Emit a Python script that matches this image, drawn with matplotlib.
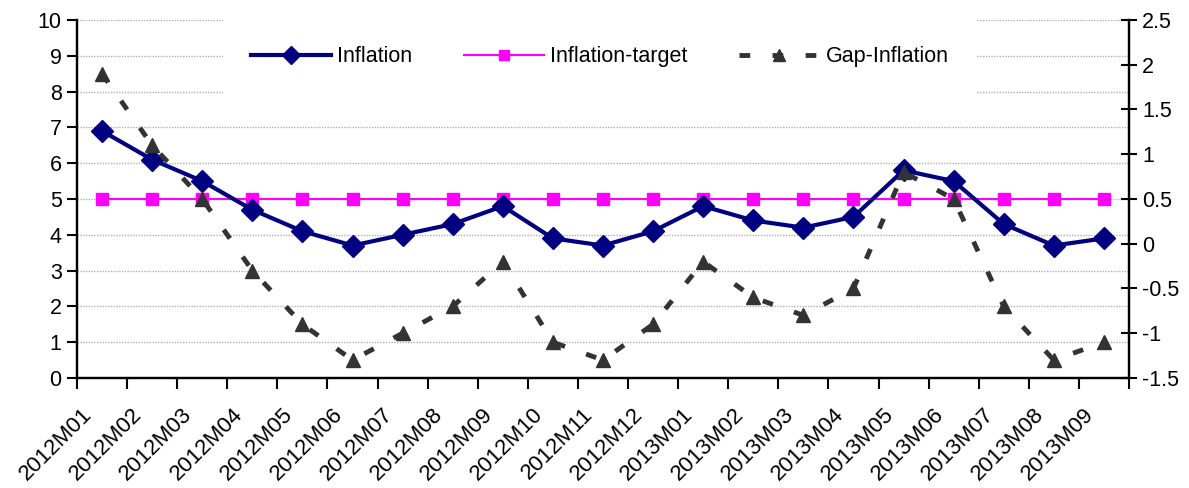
import numpy as np
import matplotlib.pyplot as plt
from matplotlib.transforms import ScaledTranslation

plt.rcParams['font.family'] = ['Liberation Sans', 'DejaVu Sans']

months = ['2012M01', '2012M02', '2012M03', '2012M04', '2012M05', '2012M06', '2012M07',
          '2012M08', '2012M09', '2012M10', '2012M11', '2012M12', '2013M01', '2013M02',
          '2013M03', '2013M04', '2013M05', '2013M06', '2013M07', '2013M08', '2013M09']
inflation = [6.9, 6.1, 5.5, 4.7, 4.1, 3.7, 4.0, 4.3, 4.8, 3.9, 3.7, 4.1, 4.8, 4.4,
             4.2, 4.5, 5.8, 5.5, 4.3, 3.7, 3.9]
target = [5.0] * 21
gap = [1.9, 1.1, 0.5, -0.3, -0.9, -1.3, -1.0, -0.7, -0.2, -1.1, -1.3, -0.9, -0.2, -0.6,
       -0.8, -0.5, 0.8, 0.5, -0.7, -1.3, -1.1]

left_ticks = list(range(0, 11))
right_ticks = [-1.5, -1, -0.5, 0, 0.5, 1, 1.5, 2, 2.5]
right_labels = ['-1.5', '-1', '-0.5', '0', '0.5', '1', '1.5', '2', '2.5']

x = np.arange(len(months))

fig = plt.figure(figsize=(11.89, 4.88), dpi=100)
ax = fig.add_axes([77 / 1189, 1 - 378 / 488, 1052 / 1189, 358 / 488])
ax2 = ax.twinx()

l1, = ax.plot(x, inflation, color='#000080', lw=3, marker='D', ms=11,
              mec='#000080', label='Inflation', zorder=3)
l2, = ax.plot(x, target, color='#ff00ff', lw=1.5, marker='s', ms=8.5,
              mec='#ff00ff', label='Inflation-target', zorder=2)
l3, = ax2.plot(x, gap, color='#333333', lw=3.5, dashes=(2.2, 4.6), marker='^',
               ms=10, mec='#333333', label='Gap-Inflation')

ax.set_xlim(-0.5, len(months) - 0.5)
ax.set_ylim(0, 10)
ax2.set_ylim(-1.5, 2.5)

# horizontal gridlines from the left scale
ax.set_yticks(left_ticks)
ax.yaxis.grid(True, color='#b0b0b0', ls=(0, (1, 1)), lw=1)
ax.set_axisbelow(True)
ax.tick_params(axis='y', direction='out', length=7, width=1.5, labelsize=15.5, pad=4)

ax2.set_yticks(right_ticks)
ax2.set_yticklabels(right_labels)
ax2.tick_params(axis='y', direction='inout', length=11, width=1.5, labelsize=15.5, pad=4)

# category boundaries carry the tick marks, labels sit under each month
ax.set_xticks(np.arange(-0.5, len(months)), minor=True)
ax.set_xticks([])
ax.tick_params(axis='x', which='minor', direction='out', length=8, width=1.5)
off = ScaledTranslation(-13 / 100, -33 / 100, fig.dpi_scale_trans)
for xi, name in zip(x, months):
    ax.text(xi, 0, name, transform=ax.get_xaxis_transform() + off, rotation=45,
            rotation_mode='anchor', ha='right', va='center', fontsize=16)

for a in (ax, ax2):
    a.spines['top'].set_visible(False)
    for s in ('left', 'right', 'bottom'):
        a.spines[s].set_linewidth(1.6)
        a.spines[s].set_color('black')

leg = ax2.legend(handles=[l1, l2, l3], loc='center', bbox_to_anchor=(0.497, 0.897),
                 ncol=3, fontsize=15.5, handlelength=3.7, handletextpad=0.3,
                 columnspacing=2.4, borderpad=1.3, frameon=True, fancybox=False,
                 framealpha=1, facecolor='white', edgecolor='none', markerscale=0.8)

fig.savefig('out.png', dpi=100)
